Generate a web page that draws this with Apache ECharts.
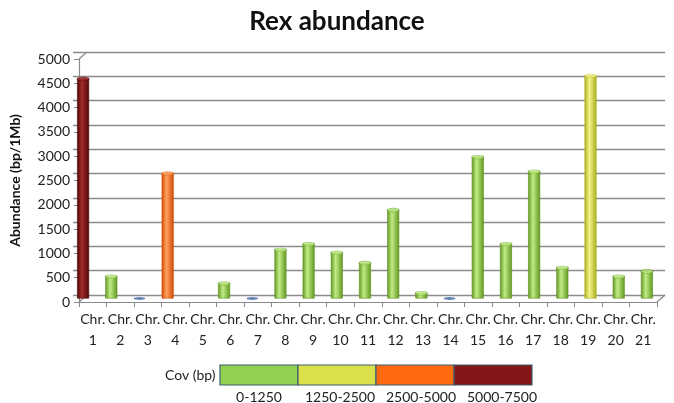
<!DOCTYPE html>
<html><head><meta charset="utf-8">
<script src="https://cdn.jsdelivr.net/npm/echarts@6/dist/echarts.min.js"></script>
<style>html,body{margin:0;padding:0;background:#fff}#c{width:674px;height:403px}</style>
</head><body><div id="c"></div>
<script>
// ---- data ----
const categories = ['Chr. 1','Chr. 2','Chr. 3','Chr. 4','Chr. 5','Chr. 6','Chr. 7','Chr. 8','Chr. 9','Chr. 10','Chr. 11','Chr. 12','Chr. 13','Chr. 14','Chr. 15','Chr. 16','Chr. 17','Chr. 18','Chr. 19','Chr. 20','Chr. 21'];
const abundance = [4520, 450, 0, 2570, 0, 310, 0, 1000, 1120, 940, 730, 1820, 110, 0, 2910, 1120, 2610, 630, 4580, 450, 560];
// coverage class index (0:0-1250, 1:1250-2500, 2:2500-5000, 3:5000-7500), 'z' = zero marker, null = no mark
const covClass = [3, 0, 'z', 2, null, 0, 'z', 0, 0, 0, 0, 0, 0, 'z', 0, 0, 0, 0, 1, 0, 0];
const covLabels = ['0-1250', '1250-2500', '2500-5000', '5000-7500'];
const yTicks = [0, 500, 1000, 1500, 2000, 2500, 3000, 3500, 4000, 4500, 5000];

// ---- styles ----
const covColors = ['#92d050', '#d9e04a', '#ff6a10', '#851617'];
const shade = [
  {dark:'#5f951f', light:'#c2ec86', top:'#b6e37a'},
  {dark:'#a9ad1c', light:'#f2f58a', top:'#eef07a'},
  {dark:'#cf4a00', light:'#ffa060', top:'#ff9a50'},
  {dark:'#4e0708', light:'#a52a2c', top:'#9a2426'}
];
const zeroColor = '#3f68a8';
const font = 'Lato, "Open Sans", sans-serif';

function grad(c){
  return new echarts.graphic.LinearGradient(0,0,1,0,[
    {offset:0,color:shade[c].dark},{offset:0.4,color:shade[c].light},{offset:1,color:shade[c].dark}]);
}

const barData = abundance.map((v,i)=>{
  const c = covClass[i];
  if (typeof c !== 'number') return {value:'-'};
  return {value:v, itemStyle:{color:grad(c), borderColor:shade[c].dark, borderWidth:0.6}};
});
const topData = abundance.map((v,i)=>{
  const c = covClass[i];
  if (typeof c !== 'number') return {value:[i,'-']};
  return {value:[i,v], itemStyle:{color:shade[c].top, borderColor:shade[c].dark, borderWidth:0.6}};
});
const zeroData = abundance.map((v,i)=> covClass[i]==='z' ? [i,v] : [i,'-']);

const ellipse = 'path://M0,5a10,5 0 1,0 20,0a10,5 0 1,0 -20,0z';
const DX = 8, DY = 7; // depth offset of back wall

const chart = echarts.init(document.getElementById('c'));
const legendX = 220, legendW = 78, legendY = 365, legendH = 20;
const graphic = [{type:'text', x:165, y:legendY+legendH/2, style:{text:'Cov (bp)', font:'14px '+font, fill:'#222', verticalAlign:'middle'}}];
covLabels.forEach((t,i)=>{
  graphic.push({type:'rect', shape:{x:legendX+i*legendW, y:legendY, width:legendW, height:legendH},
    style:{fill:covColors[i], stroke:'#3d5f70', lineWidth:1.2}});
  graphic.push({type:'text', x:legendX+i*legendW+legendW/2+(i*3), y:legendY+legendH+12,
    style:{text:t, font:'14px '+font, fill:'#222', align:'center', verticalAlign:'middle'}});
});

chart.setOption({
  animation:false,
  backgroundColor:'#fff',
  title:{text:'Rex abundance', left:'center', top:4, textStyle:{fontSize:26, fontWeight:'bold', fontFamily:font, color:'#111'}},
  graphic: graphic,
  grid:[
    {left:65, width:592, top:59, height:243},
    {left:65+DX, width:592, top:59-DY, height:243},
    {left:65+DX/2, width:592, top:59-DY/2, height:243}
  ],
  xAxis:[
    {gridIndex:0, type:'category', data:categories,
     axisLine:{show:true, lineStyle:{color:'#8a8a8a', width:1.2}},
     axisTick:{show:true, length:5, lineStyle:{color:'#8a8a8a'}},
     axisLabel:{interval:0, fontFamily:font, fontSize:14, color:'#222', lineHeight:21, margin:7,
       formatter:s=>s.replace(' ','\n')}},
    {gridIndex:1, type:'category', data:categories, show:false},
    {gridIndex:2, type:'category', data:categories, show:false}
  ],
  yAxis:[
    {gridIndex:0, type:'value', min:0, max:5000, interval:500,
     name:'Abundance (bp/1Mb)', nameLocation:'middle', nameGap:57, nameRotate:90,
     nameTextStyle:{fontFamily:font, fontSize:14, fontWeight:'bold', color:'#111'},
     axisLine:{show:true, lineStyle:{color:'#8a8a8a', width:1.2}},
     axisTick:{show:true, length:5, lineStyle:{color:'#8a8a8a'}},
     axisLabel:{fontFamily:font, fontSize:14, color:'#222', margin:9, formatter:v=>String(v)},
     splitLine:{show:false}},
    {gridIndex:1, type:'value', min:0, max:5000, interval:500,
     axisLine:{show:false}, axisTick:{show:false}, axisLabel:{show:false},
     splitLine:{show:true, lineStyle:{color:'#8c8c8c', width:1.3}}},
    {gridIndex:2, type:'value', min:0, max:5000, interval:500, show:false, splitLine:{show:false}}
  ],
  series:[
    {type:'custom', xAxisIndex:0, yAxisIndex:0, silent:true, z:1,
     data: yTicks.map(v=>[0,v]),
     renderItem:(params, api)=>{
       const y = api.coord([0, api.value(1)])[1];
       const cs = params.coordSys;
       const children = [{type:'line', shape:{x1:cs.x, y1:y, x2:cs.x+DX, y2:y-DY},
         style:{stroke:'#8c8c8c', lineWidth:1.2}}];
       if (api.value(1) === 0) {
         children.push({type:'line', shape:{x1:cs.x+cs.width, y1:y, x2:cs.x+cs.width+DX, y2:y-DY},
           style:{stroke:'#8c8c8c', lineWidth:1.2}});
       }
       return {type:'group', children};
     }},
    {type:'bar', xAxisIndex:2, yAxisIndex:2, data:barData, barWidth:12, z:3},
    {type:'scatter', xAxisIndex:2, yAxisIndex:2, data:topData, symbol:ellipse, symbolSize:[12,4], z:4},
    {type:'scatter', xAxisIndex:2, yAxisIndex:2, data:zeroData, symbol:ellipse, symbolSize:[12,3],
     itemStyle:{color:zeroColor}, z:4}
  ]
});
</script>
</body></html>
